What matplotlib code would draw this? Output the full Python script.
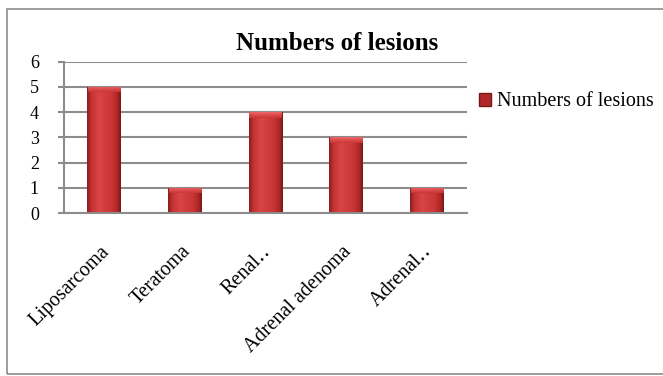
import numpy as np
import matplotlib
matplotlib.use("Agg")
import matplotlib.pyplot as plt
from matplotlib.colors import LinearSegmentedColormap
from matplotlib.patches import Rectangle
from matplotlib.transforms import ScaledTranslation

categories = ["Liposarcoma", "Teratoma", "Renal‥", "Adrenal adenoma", "Adrenal‥"]
values = [5, 1, 4, 3, 1]
series_name = "Numbers of lesions"
title = "Numbers of lesions"

plt.rcParams["font.family"] = ["Liberation Serif", "DejaVu Serif"]

# horizontal shading of the bars (dark edge -> light -> darker edge)
bar_cmap = LinearSegmentedColormap.from_list(
    "bar", [(0.0, "#8a1c1c"), (0.12, "#c43232"), (0.35, "#d94444"),
            (0.75, "#c93434"), (0.92, "#a82424"), (1.0, "#7a1616")])
cap_cmap = LinearSegmentedColormap.from_list(
    "cap", [(0.0, "#c93434"), (0.6, "#e25555"), (1.0, "#f07070")])

fig = plt.figure(figsize=(6.63, 3.76), dpi=100)
fig.patch.set_facecolor("white")

# outer chart border
fig.add_artist(Rectangle((7 / 663, 1 - 374 / 376), 1.0, (374 - 9) / 376,
                         transform=fig.transFigure, fill=False,
                         edgecolor="#8c8c8c", linewidth=1.2))

ax = fig.add_axes([64 / 663, 1 - 213 / 376, 403 / 663, (213 - 61.5) / 376])
x = np.arange(len(categories))
width = 0.42
bars = ax.bar(x, values, width=width, color="#c43232", zorder=3)

grad = np.linspace(0, 1, 64).reshape(1, -1)
cap_h = 0.22
for b, v in zip(bars, values):
    x0 = b.get_x()
    b.set_facecolor("none")
    im = ax.imshow(grad, cmap=bar_cmap, aspect="auto", zorder=3,
                   extent=[x0, x0 + width, 0, v], interpolation="bicubic")
    im.set_clip_path(b)
    cap = np.linspace(0, 1, 32).reshape(-1, 1)
    im2 = ax.imshow(cap, cmap=cap_cmap, aspect="auto", zorder=4, origin="lower",
                    extent=[x0 + 0.01, x0 + width - 0.01, v - cap_h, v],
                    interpolation="bicubic", alpha=0.9)
    im2.set_clip_path(b)

ax.set_xlim(-0.5, len(categories) - 0.5)
ax.set_ylim(0, 6)
ax.set_yticks(range(0, 7))
ax.yaxis.grid(True, color="#8c8c8c", linewidth=1.5, zorder=0)
ax.set_axisbelow(True)
for s in ["top", "right"]:
    ax.spines[s].set_visible(False)
ax.spines["left"].set_color("#8c8c8c")
ax.spines["left"].set_linewidth(1.5)
ax.spines["bottom"].set_color("#8c8c8c")
ax.spines["bottom"].set_linewidth(1.5)
ax.spines["bottom"].set_zorder(5)
ax.tick_params(axis="y", length=4, width=1.5, color="#8c8c8c", pad=14, labelsize=13)
ax.tick_params(axis="x", length=0, pad=21, labelsize=14.5)
ax.set_xticks(x)
ax.set_xticklabels(categories, rotation=45, ha="right", va="top",
                   rotation_mode="anchor")
shift = ScaledTranslation(-4 / 100, 0, fig.dpi_scale_trans)
for lab in ax.get_xticklabels():
    lab.set_transform(lab.get_transform() + shift)

fig.text(337 / 663, 1 - 43 / 376, title, ha="center", va="center",
         fontsize=18, fontweight="bold")

fig.legend([Rectangle((0, 0), 1, 1, facecolor="#b02828", edgecolor="#7a1616")],
           [series_name], loc="center left", bbox_to_anchor=(479 / 663, 1 - 102 / 376),
           frameon=False, fontsize=14.5, handlelength=0.6, handleheight=0.6,
           handletextpad=0.3, borderpad=0, borderaxespad=0)

fig.savefig("out.png", dpi=100)
